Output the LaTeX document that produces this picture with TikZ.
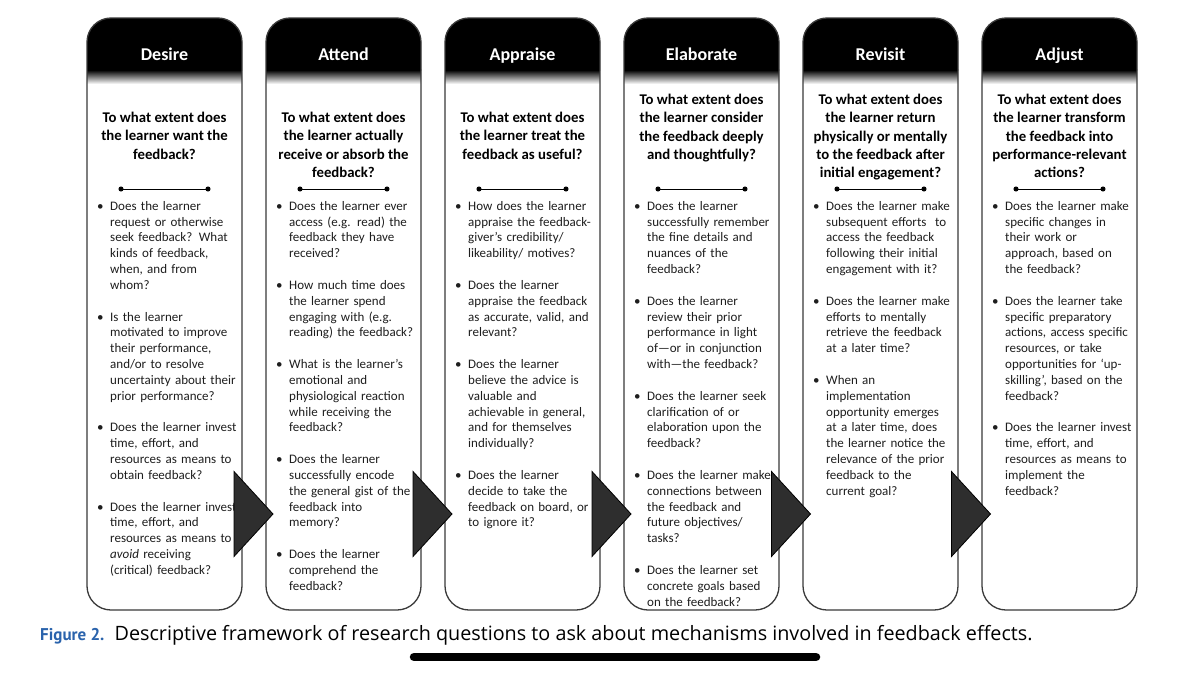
\documentclass[tikz,border=0pt]{standalone}
\usepackage{fontspec}
\setmainfont{Carlito}
\newfontfamily\capfont{PT Sans}
\newfontfamily\captextfont{Open Sans}
\usepackage{tikz}
\usetikzlibrary{arrows.meta, positioning}
\definecolor{fbline}{HTML}{3A3A3A}
\definecolor{fbtext}{HTML}{1E1E1E}
\definecolor{fbtri}{HTML}{2E2E2E}
\definecolor{figblue}{HTML}{2A63AC}
\newcommand{\qitem}[1]{\noindent\hangindent=13pt\hangafter=1\makebox[13pt][l]{\textbullet}{\let\\\newline #1}\par\vspace{16pt}}

\begin{document}
\begin{tikzpicture}[
  x=1pt, y=-1pt,
  stagebox/.style={draw=fbline, line width=1.3pt, fill=white, rounded corners=24pt,
    minimum width=155pt, minimum height=592pt, inner sep=0pt,
    path picture={
      \fill[black, sharp corners] (path picture bounding box.north west) rectangle ++(170,53);
      \shade[top color=black, bottom color=white, sharp corners] ([yshift=-52pt]path picture bounding box.north west) rectangle ++(170,14);
    }},
  stagehead/.style={anchor=base, text=white, font=\fontsize{18}{22}\selectfont\bfseries},
  stageq/.style={anchor=north, align=center, inner sep=0pt, text=black, font=\fontsize{14.8}{18.3}\selectfont\bfseries},
  stagebody/.style={anchor=north west, inner sep=0pt, text width=150pt, align=left, text=fbtext, font=\fontsize{13}{15.8}\selectfont},
  stagerule/.style={line width=1pt, {Circle[length=5pt]}-{Circle[length=5pt]}},
  fbarrow/.pic={\draw[fill=fbtri, draw=black, line width=0.8pt] (-19.5,-42.5) -- (19.5,0) -- (-19.5,42.5) -- cycle;}
]
\path[fill=white, use as bounding box] (0,0) rectangle (1200,677);

\node[stagebox] (desire) at (164.5,314) {};
\node[stagebox] (attend) at (343.5,314) {};
\node[stagebox] (appraise) at (522.5,314) {};
\node[stagebox] (elaborate) at (701.5,314) {};
\node[stagebox] (revisit) at (880.5,314) {};
\node[stagebox] (adjust) at (1059.5,314) {};

\node[stagehead] (desire-h) at (164.5,61) {Desire};
\node[stagehead] (attend-h) at (343.5,61) {Attend};
\node[stagehead] (appraise-h) at (522.5,61) {Appraise};
\node[stagehead] (elaborate-h) at (701.5,61) {Elaborate};
\node[stagehead] (revisit-h) at (880.5,61) {Revisit};
\node[stagehead] (adjust-h) at (1059.5,61) {Adjust};

\node[stageq] (desire-q) at (164.5,112) {To what extent does\\the learner want the\\feedback?};
\node[stageq] (attend-q) at (343.5,112) {To what extent does\\the learner actually\\receive or absorb the\\feedback?};
\node[stageq] (appraise-q) at (522.5,112) {To what extent does\\the learner treat the\\feedback as useful?};
\node[stageq] (elaborate-q) at (701.5,94) {To what extent does\\the learner consider\\the feedback deeply\\and thoughtfully?};
\node[stageq] (revisit-q) at (880.5,94) {To what extent does\\the learner return\\physically or mentally\\to the feedback after\\initial engagement?};
\node[stageq] (adjust-q) at (1059.5,94) {To what extent does\\the learner transform\\the feedback into\\performance-relevant\\actions?};

\coordinate (desire-l) at (118.5,189);
\coordinate (desire-r) at (210.5,189);
\coordinate (attend-l) at (297.5,189);
\coordinate (attend-r) at (389.5,189);
\coordinate (appraise-l) at (476.5,189);
\coordinate (appraise-r) at (568.5,189);
\coordinate (elaborate-l) at (655.5,189);
\coordinate (elaborate-r) at (747.5,189);
\coordinate (revisit-l) at (834.5,189);
\coordinate (revisit-r) at (926.5,189);
\coordinate (adjust-l) at (1013.5,189);
\coordinate (adjust-r) at (1105.5,189);
\draw[stagerule] (desire-l) -- (desire-r);
\draw[stagerule] (attend-l) -- (attend-r);
\draw[stagerule] (appraise-l) -- (appraise-r);
\draw[stagerule] (elaborate-l) -- (elaborate-r);
\draw[stagerule] (revisit-l) -- (revisit-r);
\draw[stagerule] (adjust-l) -- (adjust-r);

\node[stagebody] (desire-b) at (97,201) {%
  \qitem{Does the learner\\request or otherwise\\seek feedback? What\\kinds of feedback,\\when, and from\\whom?}
  \qitem{Is the learner\\motivated to improve\\their performance,\\and/or to resolve\\uncertainty about their\\prior performance?}
  \qitem{Does the learner invest\\time, effort, and\\resources as means to\\obtain feedback?}
  \qitem{Does the learner invest\\time, effort, and\\resources as means to\\\textit{avoid} receiving\\(critical) feedback?}};
\node[stagebody] (attend-b) at (276,201) {%
  \qitem{Does the learner ever\\access (e.g. read) the\\feedback they have\\received?}
  \qitem{How much time does\\the learner spend\\engaging with (e.g.\\reading) the feedback?}
  \qitem{What is the learner’s\\emotional and\\physiological reaction\\while receiving the\\feedback?}
  \qitem{Does the learner\\successfully encode\\the general gist of the\\feedback into\\memory?}
  \qitem{Does the learner\\comprehend the\\feedback?}};
\node[stagebody] (appraise-b) at (455,201) {%
  \qitem{How does the learner\\appraise the feedback-\\giver’s credibility/\\likeability/ motives?}
  \qitem{Does the learner\\appraise the feedback\\as accurate, valid, and\\relevant?}
  \qitem{Does the learner\\believe the advice is\\valuable and\\achievable in general,\\and for themselves\\individually?}
  \qitem{Does the learner\\decide to take the\\feedback on board, or\\to ignore it?}};
\node[stagebody] (elaborate-b) at (634,201) {%
  \qitem{Does the learner\\successfully remember\\the fine details and\\nuances of the\\feedback?}
  \qitem{Does the learner\\review their prior\\performance in light\\of—or in conjunction\\with—the feedback?}
  \qitem{Does the learner seek\\clarification of or\\elaboration upon the\\feedback?}
  \qitem{Does the learner make\\connections between\\the feedback and\\future objectives/\\tasks?}
  \qitem{Does the learner set\\concrete goals based\\on the feedback?}};
\node[stagebody] (revisit-b) at (813,201) {%
  \qitem{Does the learner make\\subsequent efforts\ \ to\\access the feedback\\following their initial\\engagement with it?}
  \qitem{Does the learner make\\efforts to mentally\\retrieve the feedback\\at a later time?}
  \qitem{When an\\implementation\\opportunity emerges\\at a later time, does\\the learner notice the\\relevance of the prior\\feedback to the\\current goal?}};
\node[stagebody] (adjust-b) at (992,201) {%
  \qitem{Does the learner make\\specific changes in\\their work or\\approach, based on\\the feedback?}
  \qitem{Does the learner take\\specific preparatory\\actions, access specific\\resources, or take\\opportunities for ‘up-\\skilling’, based on the\\feedback?}
  \qitem{Does the learner invest\\time, effort, and\\resources as means to\\implement the\\feedback?}};

\pic at (253.5,514) {fbarrow};
\pic at (432.5,514) {fbarrow};
\pic at (611.5,514) {fbarrow};
\pic at (791,514) {fbarrow};
\pic at (971,514) {fbarrow};

\node[anchor=base west, inner sep=0pt, font=\capfont\fontsize{17}{20}\selectfont] (caption) at (40,640)
  {{\color{figblue}\bfseries Figure 2.}\hspace{0.6em}\resizebox{918pt}{!}{\captextfont Descriptive framework of research questions to ask about mechanisms involved in feedback effects.}};

\coordinate (bar-l) at (414,657);
\coordinate (bar-r) at (816,657);
\draw[line width=8.5pt, line cap=round] (bar-l) -- (bar-r);
\end{tikzpicture}
\end{document}
